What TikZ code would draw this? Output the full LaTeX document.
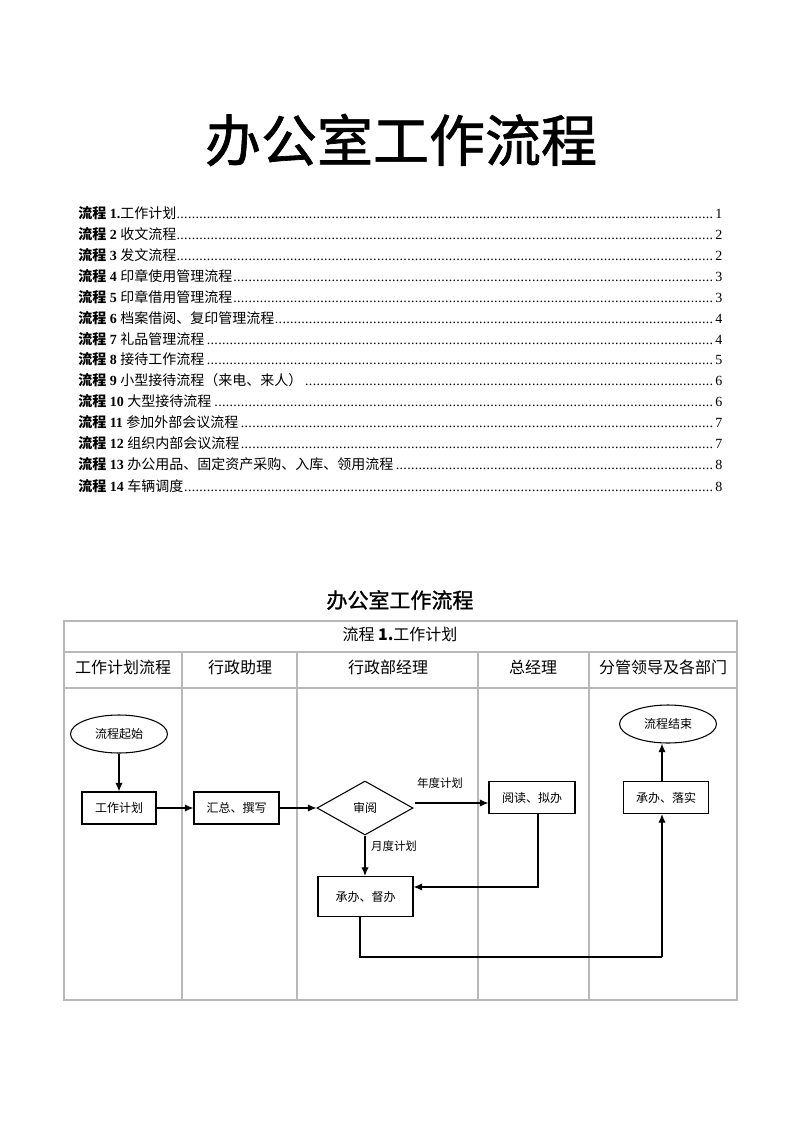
\documentclass[tikz,border=0pt]{standalone}
\usepackage{fontspec}
\setmainfont{Liberation Serif}
\newfontfamily\cjk{Noto Sans CJK SC}
\newfontfamily\cjkfb{Noto Sans CJK SC}[FakeBold=1.2]
\usetikzlibrary{arrows.meta,shapes.geometric,calc}
\newcommand{\tocdots}{\leaders\hbox to 0.27em{\hss.\hss}\hfill}
\newcommand{\tocitem}[3]{\makebox[483pt][l]{{\cjk\bfseries 流程}~\textbf{#1}{\cjk #2}\tocdots #3}}
\begin{document}
\begin{tikzpicture}[x=0.75pt,y=-0.75pt,
  toc/.style={anchor=west,inner sep=0pt,font=\fontsize{10.5pt}{12pt}\selectfont},
  lane/.style={draw=black!28,line width=0.8pt},
  hdr/.style={font=\cjk\fontsize{12pt}{14pt}\selectfont,inner sep=0pt},
  fbox/.style={draw,line width=0.8pt,rectangle,inner sep=0pt,font=\cjk\fontsize{9pt}{10pt}\selectfont,minimum height=24pt},
  fell/.style={draw,line width=0.8pt,ellipse,inner sep=0pt,minimum width=72.75pt,minimum height=28.5pt,font=\cjk\fontsize{9pt}{10pt}\selectfont},
  lbl/.style={font=\cjk\fontsize{8.6pt}{10pt}\selectfont,inner sep=0pt},
  arr/.style={line width=0.9pt,-{Latex[length=6.5pt,width=5.5pt]}},
  ln/.style={line width=0.9pt}]
\useasboundingbox (0,0) rectangle (800,1132);
% main title
\node[font=\cjkfb\fontsize{42pt}{46pt}\selectfont,inner sep=0pt] (title) at (401,140) {办公室工作流程};
% table of contents
\node[toc] (t1) at (78,213) {\tocitem{1.}{工作计划}{1}};
\node[toc] (t2) at (78,234) {\tocitem{2 }{收文流程}{2}};
\node[toc] (t3) at (78,255) {\tocitem{3 }{发文流程}{2}};
\node[toc] (t4) at (78,276) {\tocitem{4 }{印章使用管理流程}{3}};
\node[toc] (t5) at (78,297) {\tocitem{5 }{印章借用管理流程}{3}};
\node[toc] (t6) at (78,318) {\tocitem{6 }{档案借阅、复印管理流程}{4}};
\node[toc] (t7) at (78,339) {\tocitem{7 }{礼品管理流程}{4}};
\node[toc] (t8) at (78,359) {\tocitem{8 }{接待工作流程}{5}};
\node[toc] (t9) at (78,380) {\tocitem{9 }{小型接待流程（来电、来人）}{6}};
\node[toc] (t10) at (78,401) {\tocitem{10 }{大型接待流程}{6}};
\node[toc] (t11) at (78,422) {\tocitem{11 }{参加外部会议流程}{7}};
\node[toc] (t12) at (78,443) {\tocitem{12 }{组织内部会议流程}{7}};
\node[toc] (t13) at (78,464) {\tocitem{13 }{办公用品、固定资产采购、入库、领用流程}{8}};
\node[toc] (t14) at (78,486) {\tocitem{14 }{车辆调度}{8}};
% second title
\node[font=\cjkfb\fontsize{15.75pt}{18pt}\selectfont,inner sep=0pt] (title2) at (400,600) {办公室工作流程};
% table
\draw[lane] (64,621) rectangle (737,1000);
\draw[lane] (64,652) -- (737,652);
\draw[lane] (64,688) -- (737,688);
\foreach \x in {182,297,478,589} \draw[lane] (\x,652) -- (\x,1000);
\node[hdr] (rowtitle) at (400,634) {{\cjk 流程}~\textbf{1.}{\cjk 工作计划}};
\node[hdr] (h1) at (123,667) {工作计划流程};
\node[hdr] (h2) at (240,667) {行政助理};
\node[hdr] (h3) at (388,667) {行政部经理};
\node[hdr] (h4) at (533,667) {总经理};
\node[hdr] (h5) at (663,667) {分管领导及各部门};
% flowchart
\node[fell] (start) at (119,734) {流程起始};
\node[fbox,minimum width=55.5pt] (plan) at (119,808) {工作计划};
\node[fbox,minimum width=63.75pt] (sum) at (236.5,808) {汇总、撰写};
\node[draw,line width=0.8pt,diamond,aspect=1.78,inner sep=0pt,minimum width=72pt,minimum height=40.5pt,font=\cjk\fontsize{9pt}{10pt}\selectfont] (review) at (365,808) {审阅};
\node[fbox,minimum width=64.5pt] (read) at (532,797.5) {阅读、拟办};
\node[fbox,minimum width=63.75pt] (do) at (666,797.5) {承办、落实};
\node[fell] (end) at (668,724) {流程结束};
\node[fbox,minimum width=71.25pt,minimum height=30pt] (sup) at (365.5,896.5) {承办、督办};
\draw[arr] (start) -- (plan);
\draw[arr] (plan) -- (sum);
\draw[arr] (sum) -- (review);
\coordinate (ya) at ($(review.east)+(1,-5)$);
\draw[arr] (ya) -- (ya -| read.west);
\node[lbl] (lyear) at (440,783) {年度计划};
\draw[arr] (review.south) -- (review.south |- sup.north);
\node[lbl] (lmonth) at (394,846) {月度计划};
\coordinate (rb) at ($(read.south)+(6,0)$);
\coordinate (se) at ($(sup.east)+(0,-9.5)$);
\draw[arr] (rb) |- (se);
\coordinate (c1) at (360,957);
\coordinate (c2) at (662,957);
\draw[ln] (c1 |- sup.south) -- (c1) -- (c2);
\draw[arr] (c2) -- (c2 |- do.south);
\draw[arr] (c2 |- do.north) -- (c2 |- end.south);
\end{tikzpicture}
\end{document}
